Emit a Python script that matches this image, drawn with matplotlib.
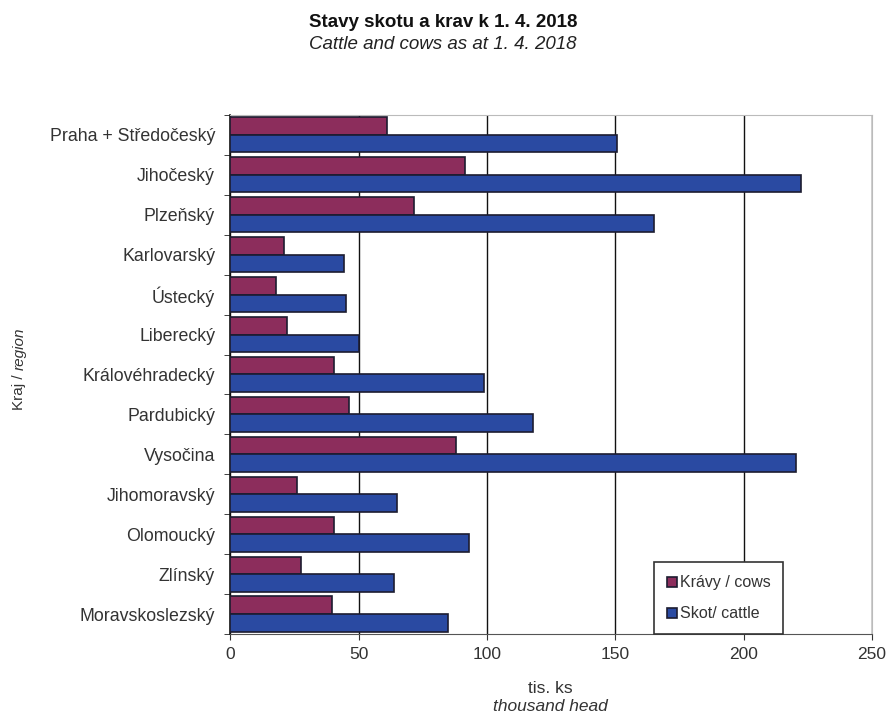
import numpy as np
import matplotlib.pyplot as plt
from matplotlib.ticker import FixedLocator

plt.rcParams['font.family'] = ['Liberation Sans', 'DejaVu Sans']

regions = ['Praha + Středočeský', 'Jihočeský', 'Plzeňský', 'Karlovarský',
           'Ústecký', 'Liberecký', 'Královéhradecký', 'Pardubický',
           'Vysočina', 'Jihomoravský', 'Olomoucký', 'Zlínský',
           'Moravskoslezský']
cows = [60.9, 91.4, 71.5, 21.1, 17.7, 21.9, 40.5, 46.4, 88.0, 25.9, 40.5, 27.7, 39.8]
cattle = [150.7, 222.3, 165.2, 44.2, 45.0, 50.2, 98.7, 117.8, 220.4, 64.9, 93.2, 63.6, 84.8]

fig = plt.figure(figsize=(8.86, 7.16), dpi=100)
ax = fig.add_axes([0.260, 0.1145, 0.724, 0.725])

y = np.arange(len(regions))
h = 0.44
edge = '#1c1c30'
ax.barh(y - h / 2, cows, height=h, color='#8c2d5c', edgecolor=edge,
        linewidth=1.2, label='Krávy / cows', zorder=3)
ax.barh(y + h / 2, cattle, height=h, color='#2a4aa2', edgecolor=edge,
        linewidth=1.2, label='Skot/ cattle', zorder=3)

ax.set_xlim(0, 250)
ax.set_ylim(len(regions) - 0.5, -0.5)
ax.set_xticks([0, 50, 100, 150, 200, 250])
ax.tick_params(axis='x', labelsize=12.5, length=4, color='#333333', pad=5,
               labelcolor='#333333')

# category labels centred, ticks on the boundaries
ax.set_yticks(y)
ax.set_yticklabels(regions, fontsize=12.8, color='#333333')
ax.yaxis.set_minor_locator(FixedLocator(np.arange(len(regions) + 1) - 0.5))
ax.tick_params(axis='y', which='major', length=0, pad=11)
ax.tick_params(axis='y', which='minor', length=4, color='#222222')

ax.xaxis.grid(True, color='#111111', linewidth=1.0, zorder=0)
for s in ['top', 'right']:
    ax.spines[s].set_color('#bbbbbb')
ax.spines['bottom'].set_color('#555555')
ax.spines['left'].set_color('#111111')
ax.spines['left'].set_linewidth(1.2)

fig.text(0.5, 0.969, 'Stavy skotu a krav k 1. 4. 2018', ha='center', va='center',
         fontsize=13.5, fontweight='bold', color='#111111')
fig.text(0.5, 0.938, 'Cattle and cows as at 1. 4. 2018', ha='center', va='center',
         fontsize=13.5, style='italic', color='#222222')

fig.text(0.621, 0.038, 'tis. ks', ha='center', va='center', fontsize=12.5,
         color='#333333')
fig.text(0.621, 0.013, 'thousand head', ha='center', va='center', fontsize=12.5,
         style='italic', color='#333333')

fig.text(0.022, 0.483, 'Kraj / ', rotation=90, ha='center', va='top',
         fontsize=11, color='#333333')
fig.text(0.022, 0.483, 'region', rotation=90, ha='center', va='bottom',
         fontsize=11, style='italic', color='#333333')

leg = ax.legend(loc='lower right', bbox_to_anchor=(0.862, 0.0), fontsize=11.5,
                handlelength=0.6, handleheight=0.6, handletextpad=0.2,
                labelspacing=1.0, borderpad=0.8, borderaxespad=0,
                fancybox=False, framealpha=1, edgecolor='#333333')
leg.get_frame().set_linewidth(1.2)
for t in leg.get_texts():
    t.set_color('#333333')
leg.set_zorder(5)

fig.savefig('out.png', dpi=100)
